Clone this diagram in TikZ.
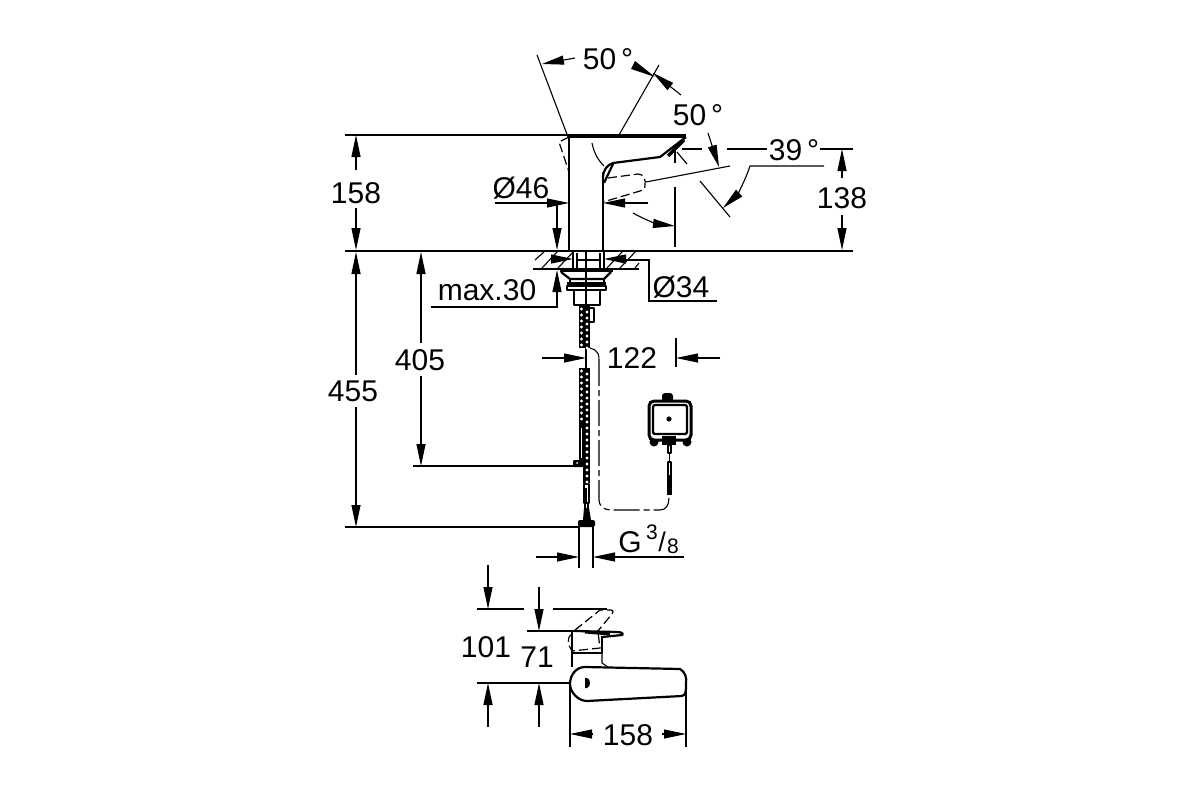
\documentclass[tikz,border=0pt]{standalone}
\usepackage{fontspec}
\setmainfont{Liberation Sans}
\usetikzlibrary{arrows.meta}
\tikzset{
dimline/.style={line width=1.1pt,-{Triangle[length=22pt,width=9pt]}},
thinline/.style={line width=1.1pt},
bodyline/.style={line width=2.2pt,line join=round},
heavyline/.style={line width=3.4pt,line join=round},
hiddenline/.style={line width=1.2pt,dash pattern=on 9pt off 4pt},
cableline/.style={line width=1.1pt,dash pattern=on 26pt off 4pt on 6pt off 4pt},
dimtext/.style={font=\fontsize{30}{30}\selectfont,inner sep=0pt,anchor=center},
smalltext/.style={font=\fontsize{21}{21}\selectfont,inner sep=0pt,anchor=center},
}
\begin{document}
\begin{tikzpicture}[x=1pt,y=-1pt]
\useasboundingbox (0,0) rectangle (1200,800);

% dimension texts
\node[dimtext] (dim158) at (356,193) {158};
\node[dimtext] (dim455) at (353,391) {455};
\node[dimtext] (dim405) at (420,360) {405};
\node[dimtext] (maxthirty) at (487,290) {max.30};
\node[dimtext] (diam46) at (521,188) {Ø46};
\node[dimtext] (diam34) at (681,287) {Ø34};
\node[dimtext] (angleleft) at (608,59) {50\,°};
\node[dimtext] (angleright) at (698,115) {50\,°};
\node[dimtext] (angletilt) at (794,150) {39\,°};
\node[dimtext] (dim138) at (842,198) {138};
\node[dimtext] (dim122) at (632,358) {122};
\node[dimtext] (thread) at (630,542) {G};
\node[smalltext] (threadtop) at (652,532) {3};
\node[smalltext,font=\fontsize{27}{27}\selectfont] (threadbar) at (662,542) {/};
\node[smalltext] (threadlow) at (673,546) {8};
\node[dimtext] (dim101) at (486,647) {101};
\node[dimtext] (dim71) at (537,657) {71};
\node[dimtext] (dim158b) at (628,735) {158};

% extension lines
\draw[thinline] (345,135)--(568,135);
\draw[line width=1.5pt] (345,251)--(853,251);
\draw[thinline] (413,466)--(575,466);
\draw[thinline] (345,527)--(580,527);
\draw[thinline] (853,149)--(820,149);
\draw[thinline] (767,149)--(727,149);
\draw[thinline] (702,149)--(682,149);
\draw[thinline] (675,147)--(675,163);
\draw[thinline] (675,187)--(675,247);
\draw[thinline] (677,152)--(687,164);
\draw[thinline] (537,55)--(568,137);
\draw[thinline] (659,65)--(619,135);
\draw[thinline] (646,182)--(730,166);
\draw[thinline] (700,181)--(730,217);
\draw[thinline] (676,338)--(676,367);
\draw[thinline] (586,340)--(586,368);

% dimension arrows
\draw[dimline] (356,170)--(356,135);
\draw[dimline] (356,208)--(356,250);
\draw[dimline] (356,375)--(356,252);
\draw[dimline] (356,407)--(356,527);
\draw[dimline] (421,343)--(421,252);
\draw[dimline] (421,376)--(421,466);
\draw[dimline] (842,178)--(842,149);
\draw[dimline] (842,215)--(842,250);
\draw[dimline] (575,58)--(542,64);
\draw[dimline] (681,95)--(653,73);
\fill (635,61)--(655,77)--(631,69)--cycle;
\draw[dimline] (708,133)--(719,167);
\draw[dimline] (824,166)--(750,166) .. controls (744,184) and (736,196) .. (723,208);
\draw[dimline] (633,213) .. controls (645,220) and (658,224) .. (675,226);
\draw[dimline] (495,203)--(569,203);
\draw[dimline] (648,203)--(603,203);
\draw[dimline] (557,203)--(557,250);
\draw[dimline] (431,307)--(557,307)--(557,270);
\draw[dimline] (542,358)--(586,358);
\draw[dimline] (720,358)--(676,358);
\draw[dimline] (536,557)--(579,557);
\draw[dimline] (684,557)--(593,557);
\draw[dimline] (488,565)--(488,609);
\draw[dimline] (539,587)--(539,631);
\draw[dimline] (488,727)--(488,683);
\draw[dimline] (539,727)--(539,683);
\draw[dimline] (593,734)--(570,734);
\draw[dimline] (662,734)--(686,734);
\draw[thinline] (622,260)--(649,260)--(649,301)--(717,301);

% tap side view
\draw[bodyline] (569,136)--(569,251);
\draw[bodyline] (603,172)--(603,251);
\draw[heavyline] (568,136)--(686,136);
\draw[bodyline] (686,137)--(660,157)--(613,163)
  .. controls (607,165) and (603,170) .. (603,178);
\draw[heavyline] (684,140)--(668,156);
\draw[bodyline] (613,164)--(604,183);
\draw[thinline] (592,143) .. controls (594,153) and (598,160) .. (604,166);
\draw[hiddenline] (569,137)--(559,142)--(569,172);
\draw[hiddenline] (608,178)--(638,174) .. controls (644,174) and (646,180) .. (645,185)
  .. controls (645,190) and (643,190) .. (640,191)--(603,202);

% basin slab and mount
\draw[bodyline] (533,269)--(639,269);
\draw[thinline] (535,260)--(545,251);
\draw[thinline] (635,268)--(639,263);
\foreach \xpos in {542,558,607,620}
  \draw[thinline] (\xpos,268)--(\xpos+16,251);
\draw[thinline] (573,251)--(573,269);
\draw[thinline] (604,251)--(604,269);
\draw[bodyline] (577,253)--(577,269);
\draw[bodyline] (600,253)--(600,269);
\draw[thinline] (577,260)--(600,260);
\draw[thinline] (586,251)--(586,305);
\draw[dimline] (552,259)--(573,259);
\draw[dimline] (622,259)--(604,259);
\draw[bodyline] (560,271)--(613,271);
\draw[bodyline] (561,272)--(570,279)--(604,279)--(611,272);
\draw[heavyline] (567,284)--(606,284);
\draw[bodyline] (567,286) rectangle (606,290);
\draw[bodyline] (570,279)--(570,283);
\draw[bodyline] (604,279)--(604,283);
\draw[bodyline] (574,290)--(574,305)--(600,305)--(600,290);

% braided hoses
\fill (579,306) rectangle (590,348);
\draw[bodyline] (589,308) rectangle (594,322);
\fill (579,368) rectangle (590,467);
\fill (583,467) rectangle (590,483);
\draw[bodyline] (584,484) rectangle (589,503);
\fill (585,488) rectangle (587,503);
\foreach \ypos in {309,315,...,345}{
  \fill[white] (581.5,\ypos) circle (1.7pt);
  \fill[white] (587,\ypos+3) circle (1.7pt);
}
\foreach \ypos in {371,377,...,422}{
  \fill[white] (581.5,\ypos) circle (1.7pt);
  \fill[white] (587,\ypos+3) circle (1.7pt);
}
\foreach \ypos in {428,434,...,482}
  \fill[white] (587,\ypos) circle (1.7pt);
\draw[white,line width=1pt] (581,428)--(581,458);
\fill[rounded corners=1pt] (573,460) rectangle (584,467);
\fill[white] (577,463) circle (1pt);
\fill (584,508)--(589,508)--(591,520)--(583,520)--cycle;
\draw[thinline] (585,503)--(585,508);
\draw[thinline] (588,503)--(588,508);
\fill[rounded corners=2pt] (578,520) rectangle (595,527);
\draw[thinline] (579,527)--(579,568);
\draw[thinline] (593,527)--(593,568);

% sensor cable and box
\draw[thinline] (590,348)--(595,350) .. controls (598,352) and (599,355) .. (599,360);
\draw[cableline] (599,360)--(599,500) .. controls (599,506) and (604,510) .. (611,510)--(660,510)
  .. controls (666,510) and (669,505) .. (669,498);
\fill[rounded corners=3pt] (662,393) rectangle (673,402);
\fill (654,442) circle (4.5pt);
\fill (687,442) circle (4.5pt);
\draw[line width=3pt,rounded corners=5pt,fill=white] (649,401) rectangle (691,440);
\draw[bodyline,rounded corners=1.5pt] (653,405) rectangle (687,434);
\fill (669,419) circle (2.6pt);
\fill (662,436) rectangle (676,445);
\draw[bodyline] (668,445) rectangle (671,453);
\draw[thinline] (669.5,453)--(669.5,462);
\draw[bodyline] (668,462) rectangle (671,476);
\fill (667,476) rectangle (672,495);

% tap top view
\draw[bodyline] (585,667)--(680,669) .. controls (685,672) and (687,677) .. (686,684)
  .. controls (686,691) and (686,695) .. (682,696)--(587,701)
  .. controls (578,701) and (570,692) .. (570,684) .. controls (570,675) and (576,667) .. (585,667);
\draw[bodyline] (572,653)--(572,632);
\draw[bodyline] (572,653)--(602,653)--(602,636);
\draw[thinline] (572,653)--(572,667);
\draw[thinline] (602,653)--(602,663)--(608,667);
\draw[bodyline] (575,631)--(617,632) .. controls (622,632) and (624,634) .. (622,635)--(602,637);
\draw[line width=3pt] (585,632)--(610,634);
\fill (585,678) -- (587,678) .. controls (591,679) and (591,687) .. (587,688) -- (585,688) -- cycle;
\draw[hiddenline] (575,630)--(600,610)--(611,610) .. controls (614,611) and (613,612) .. (612,614)--(597,632);
\draw[hiddenline] (572,634) .. controls (566,638) and (568,645) .. (572,651)--(600,648)--(598,632);

% top view extension lines
\draw[thinline] (477,609)--(524,609);
\draw[thinline] (553,609)--(607,609);
\draw[thinline] (527,631)--(575,631);
\draw[thinline] (477,683)--(570,683);
\draw[thinline] (570,683)--(570,747);
\draw[thinline] (686,683)--(686,747);
\end{tikzpicture}
\end{document}
